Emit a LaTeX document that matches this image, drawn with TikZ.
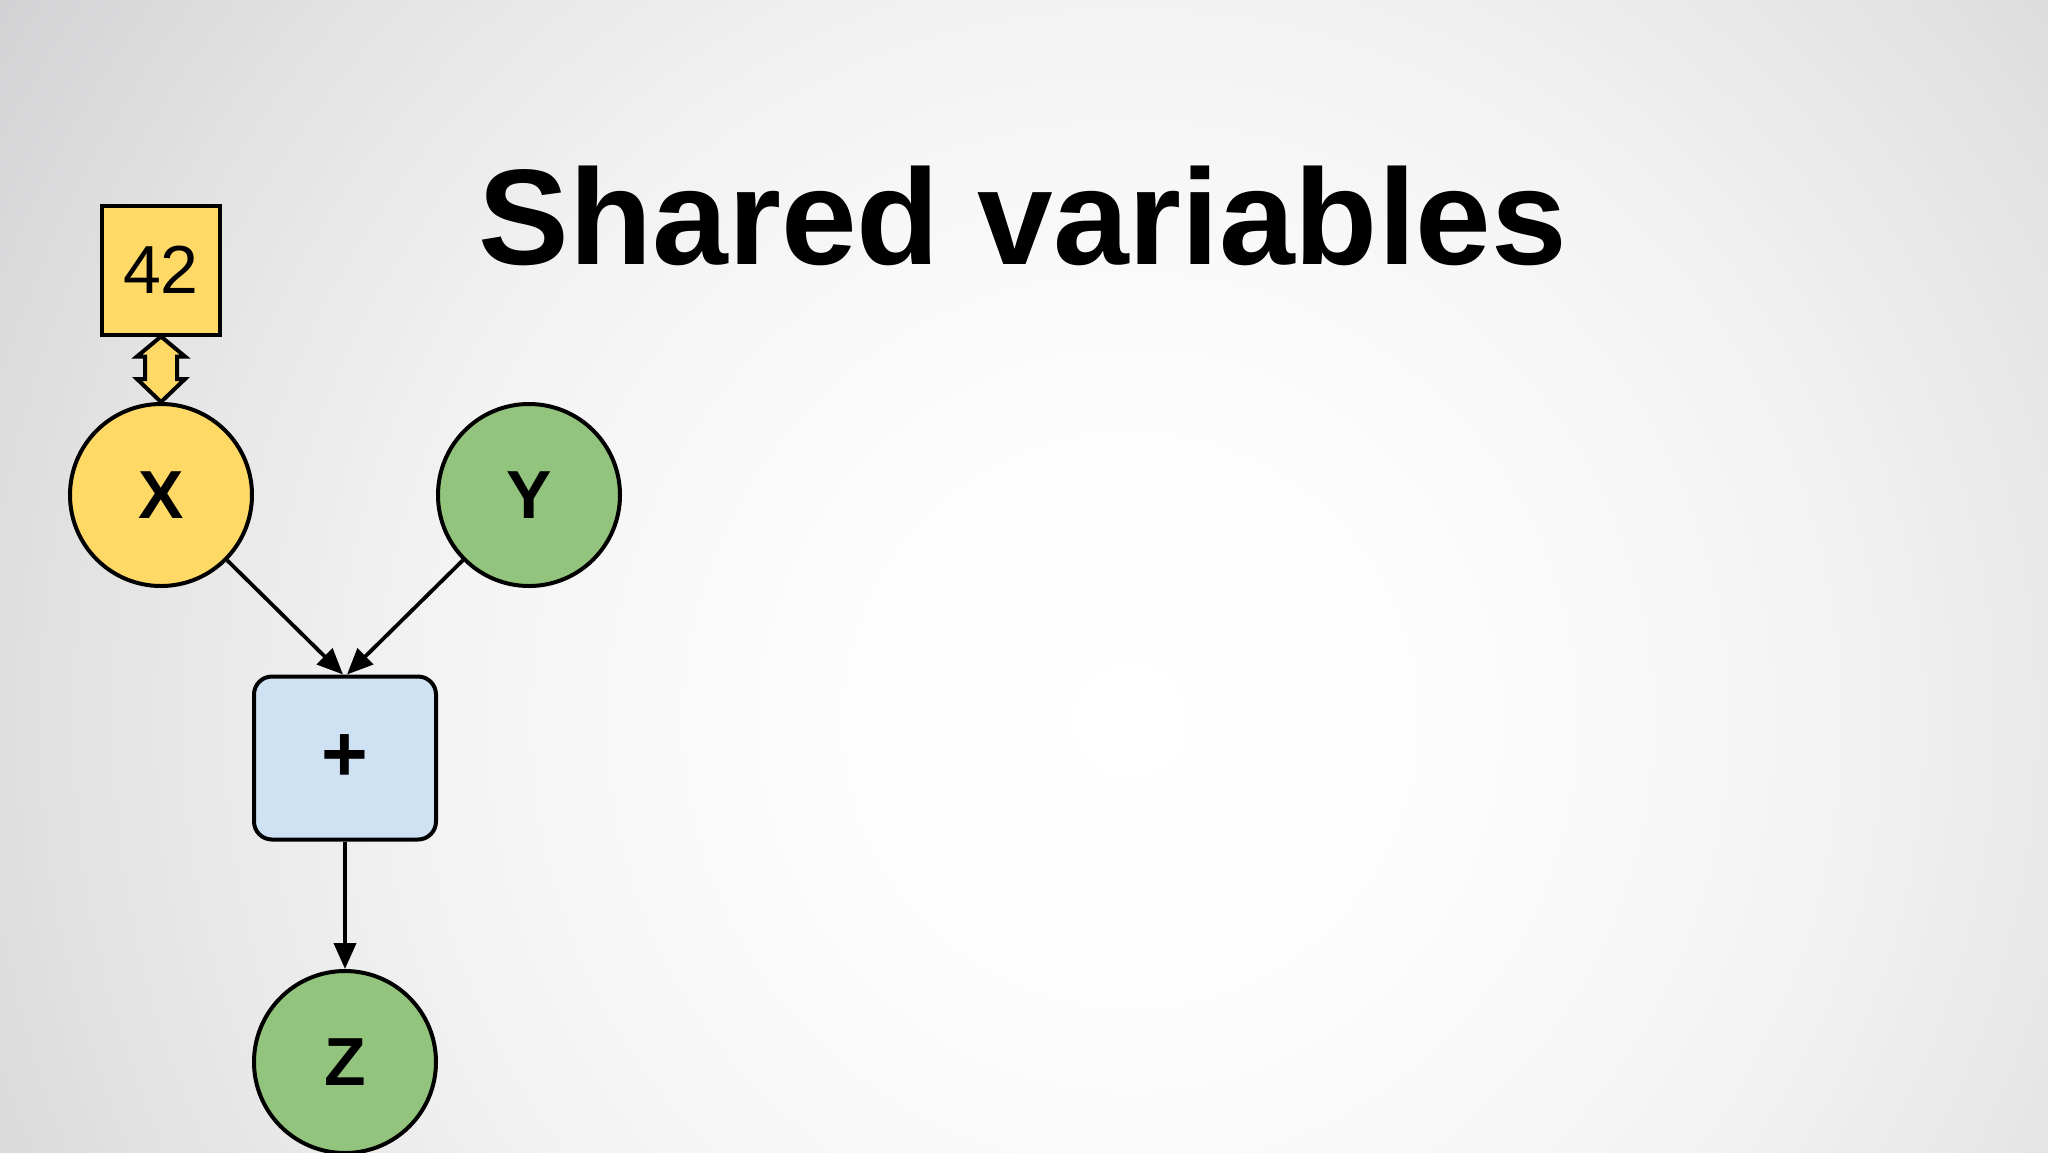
\documentclass[tikz,border=0pt]{standalone}
\usepackage{fontspec}
\setmainfont{Liberation Sans}
\usetikzlibrary{arrows.meta,calc}
\definecolor{nodeyellow}{HTML}{FFD966}
\definecolor{nodegreen}{HTML}{93C47D}
\definecolor{nodeblue}{HTML}{CFE2F3}
\definecolor{bgzero}{RGB}{255,255,255}
\definecolor{bgone}{RGB}{252,252,252}
\definecolor{bgtwo}{RGB}{243,243,244}
\definecolor{bgthree}{RGB}{227,227,228}
\definecolor{bgfour}{RGB}{207,207,209}
\pgfdeclareradialshading{bgshade}{\pgfpoint{0bp}{0bp}}{color(0bp)=(bgzero); color(6.25bp)=(bgone); color(12.5bp)=(bgtwo); color(18.75bp)=(bgthree); color(25bp)=(bgfour); color(50bp)=(bgfour)}
\tikzset{
  var/.style={circle, draw=black, line width=2pt, minimum size=91pt, inner sep=0pt,
              font=\fontsize{34}{34}\selectfont\bfseries},
  opbox/.style={rectangle, rounded corners=9pt, draw=black, line width=2pt, fill=nodeblue,
              minimum width=91pt, minimum height=81.5pt, inner sep=0pt,
              font=\fontsize{40}{40}\selectfont\bfseries},
  valbox/.style={rectangle, draw=black, line width=2pt, fill=nodeyellow,
              minimum width=59pt, minimum height=64.5pt, inner sep=0pt,
              font=\fontsize{34}{34}\selectfont},
  conn/.style={line width=1.9pt, -{Triangle[length=13pt,width=11pt]}},
  dblarrow/.style={draw=black, line width=2pt, fill=nodeyellow, line join=miter},
  titletext/.style={font=\fontsize{68}{68}\selectfont\bfseries, inner sep=0pt}
}
\begin{document}
\begin{tikzpicture}[x=0.5pt,y=-0.5pt]
\useasboundingbox (0,0) rectangle (2048,1152);
\begin{scope}
\clip (0,0) rectangle (2048,1152);
\shade[shading=bgshade] (1130,720) circle (1400);
\end{scope}

\node[titletext] (title) at (1023,216) {Shared variables};

\node[valbox] (box42) at (161,270) {42};
\node[var, fill=nodeyellow] (X) at (161,495) {X};
\node[var, fill=nodegreen] (Y) at (529,495) {Y};
\node[opbox] (plus) at (345,758) {\raisebox{-2.2pt}{+}};
\node[var, fill=nodegreen] (Z) at (345,1062) {Z};

\coordinate (da1) at (box42.south);
\coordinate (da2) at (X.north);
\draw[dblarrow] (da1) -- ($(da1)+(24,20)$) -- ($(da1)+(16,20)$) -- ($(da2)+(16,-23)$)
  -- ($(da2)+(24,-23)$) -- (da2) -- ($(da2)+(-24,-23)$) -- ($(da2)+(-16,-23)$)
  -- ($(da1)+(-16,20)$) -- ($(da1)+(-24,20)$) -- cycle;

\draw[conn] (X) -- ($(plus.north)+(-2,0)$);
\draw[conn] (Y) -- ($(plus.north)+(2,0)$);
\draw[conn] (plus) -- (Z);
\end{tikzpicture}
\end{document}
